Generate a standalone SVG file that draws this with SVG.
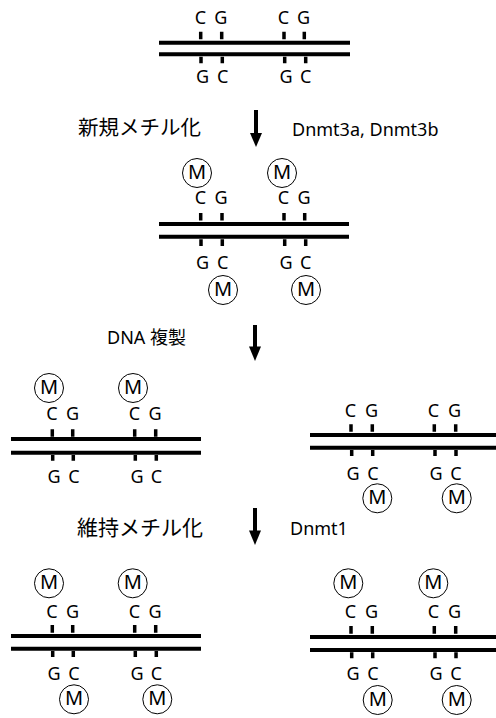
<svg xmlns="http://www.w3.org/2000/svg" width="496" height="718" viewBox="0 0 496 718">
<style>
.strand{stroke:#000;stroke-width:4;fill:none}
.tick{stroke:#000;stroke-width:3.5;fill:none}
.base{font-family:"Noto Sans","Liberation Sans",sans-serif;font-size:18px;fill:#000;text-anchor:middle}
.mc{fill:#fff;stroke:#000;stroke-width:1}
.mt{font-family:"Noto Sans","Liberation Sans",sans-serif;font-size:20px;fill:#000;text-anchor:middle}
.lbl{font-family:"Noto Sans","Noto Sans CJK JP",sans-serif;font-size:18px;fill:#000}
.jp{font-family:"Noto Sans CJK JP",sans-serif;fill:#000}
.shaft{stroke:#000;stroke-width:4;fill:none}
.head{fill:#000}
</style>
<rect width="496" height="718" fill="#fff"/>

<g id="dna-original" transform="translate(159,42.7)">
<line class="strand" x1="0" y1="0" x2="191" y2="0"/>
<line class="strand" x1="0" y1="11.6" x2="191" y2="11.6"/>
<path class="tick" d="M41.7,-11V-3.5M62.7,-11V-3.5M125,-11V-3.5M145.3,-11V-3.5M42,14V20.6M63.3,14V20.6M125.7,14V20.6M146.7,14V20.6"/>
<text class="base" x="41.5" y="-18.4">C</text><text class="base" x="61.8" y="-18.4">G</text>
<text class="base" x="124.5" y="-18.4">C</text><text class="base" x="144.5" y="-18.4">G</text>
<text class="base" x="43.5" y="40.6">G</text><text class="base" x="63.7" y="40.6">C</text>
<text class="base" x="127" y="40.6">G</text><text class="base" x="146.7" y="40.6">C</text>
</g>

<g id="dna-denovo" transform="translate(159,224)">
<line class="strand" x1="0" y1="0" x2="190" y2="0"/>
<line class="strand" x1="0" y1="12.7" x2="190" y2="12.7"/>
<path class="tick" d="M41.7,-11V-3.5M63,-11V-3.5M125,-11V-3.5M145.7,-11V-3.5M42,15.3V22M63.3,15.3V22M125.7,15.3V22M146.7,15.3V22"/>
<text class="base" x="41.5" y="-20">C</text><text class="base" x="62" y="-20">G</text>
<text class="base" x="124.5" y="-20">C</text><text class="base" x="145" y="-20">G</text>
<text class="base" x="43.5" y="45.3">G</text><text class="base" x="63.7" y="45.3">C</text>
<text class="base" x="127" y="45.3">G</text><text class="base" x="146.7" y="45.3">C</text>
<circle class="mc" cx="38" cy="-51" r="14.5"/><text class="mt" x="38" y="-45">M</text>
<circle class="mc" cx="123" cy="-51" r="14.5"/><text class="mt" x="123" y="-45">M</text>
<circle class="mc" cx="64" cy="66" r="14.5"/><text class="mt" x="64" y="72">M</text>
<circle class="mc" cx="147" cy="66" r="14.5"/><text class="mt" x="147" y="72">M</text>
</g>

<g id="dna-rep-left" transform="translate(11,439)">
<line class="strand" x1="0" y1="0" x2="190" y2="0"/>
<line class="strand" x1="0" y1="13.7" x2="190" y2="13.7"/>
<path class="tick" d="M41.3,-9.7V-2.3M61.7,-9.7V-2.3M123.7,-9.7V-2.3M144.7,-9.7V-2.3M41.7,16V21.7M62.3,16V21.7M124.3,16V21.7M145.3,16V21.7"/>
<text class="base" x="41" y="-19">C</text><text class="base" x="61.5" y="-19">G</text>
<text class="base" x="123.5" y="-19">C</text><text class="base" x="144" y="-19">G</text>
<text class="base" x="43" y="44.3">G</text><text class="base" x="63" y="44.3">C</text>
<text class="base" x="126" y="44.3">G</text><text class="base" x="145.5" y="44.3">C</text>
<circle class="mc" cx="38" cy="-51" r="14.5"/><text class="mt" x="38" y="-45">M</text>
<circle class="mc" cx="122" cy="-51" r="14.5"/><text class="mt" x="122" y="-45">M</text>
</g>

<g id="dna-rep-right" transform="translate(310,435)">
<line class="strand" x1="0" y1="0" x2="187" y2="0"/>
<line class="strand" x1="0" y1="12.7" x2="187" y2="12.7"/>
<path class="tick" d="M41,-10.7V-3.3M62.3,-10.7V-3.3M124.3,-10.7V-3.3M145.7,-10.7V-3.3M41.7,15V21M62.7,15V21M125,15V21M146,15V21"/>
<text class="base" x="40.5" y="-18.3">C</text><text class="base" x="61.5" y="-18.3">G</text>
<text class="base" x="123.5" y="-18.3">C</text><text class="base" x="144.5" y="-18.3">G</text>
<text class="base" x="43" y="45">G</text><text class="base" x="63" y="45">C</text>
<text class="base" x="126" y="45">G</text><text class="base" x="146" y="45">C</text>
<circle class="mc" cx="67.3" cy="63.3" r="14.5"/><text class="mt" x="67.3" y="69.3">M</text>
<circle class="mc" cx="146.7" cy="63.3" r="14.5"/><text class="mt" x="146.7" y="69.3">M</text>
</g>

<g id="dna-maint-left" transform="translate(11,636)">
<line class="strand" x1="0" y1="0" x2="190" y2="0"/>
<line class="strand" x1="0" y1="12.7" x2="190" y2="12.7"/>
<path class="tick" d="M41.3,-11V-3.3M61.7,-11V-3.3M123.7,-11V-3.3M144.7,-11V-3.3M41.7,15V21M62.3,15V21M124.3,15V21M145.3,15V21"/>
<text class="base" x="41" y="-18.3">C</text><text class="base" x="61.5" y="-18.3">G</text>
<text class="base" x="123.5" y="-18.3">C</text><text class="base" x="144" y="-18.3">G</text>
<text class="base" x="43" y="44">G</text><text class="base" x="63" y="44">C</text>
<text class="base" x="126" y="44">G</text><text class="base" x="145.5" y="44">C</text>
<circle class="mc" cx="38" cy="-52.7" r="14.5"/><text class="mt" x="38" y="-46.7">M</text>
<circle class="mc" cx="121.7" cy="-52.7" r="14.5"/><text class="mt" x="121.7" y="-46.7">M</text>
<circle class="mc" cx="63" cy="63.3" r="14.5"/><text class="mt" x="63" y="69.3">M</text>
<circle class="mc" cx="146.3" cy="63.3" r="14.5"/><text class="mt" x="146.3" y="69.3">M</text>
</g>

<g id="dna-maint-right" transform="translate(310,637)">
<line class="strand" x1="0" y1="0" x2="187" y2="0"/>
<line class="strand" x1="0" y1="13" x2="187" y2="13"/>
<path class="tick" d="M41,-11V-3.3M62.3,-11V-3.3M124.3,-11V-3.3M145.7,-11V-3.3M41.7,15.3V21.3M62.7,15.3V21.3M125,15.3V21.3M146,15.3V21.3"/>
<text class="base" x="40.5" y="-19.3">C</text><text class="base" x="61.5" y="-19.3">G</text>
<text class="base" x="123.5" y="-19.3">C</text><text class="base" x="144.5" y="-19.3">G</text>
<text class="base" x="43" y="43">G</text><text class="base" x="63" y="43">C</text>
<text class="base" x="126" y="43">G</text><text class="base" x="146" y="43">C</text>
<circle class="mc" cx="38.3" cy="-53.7" r="14.5"/><text class="mt" x="38.3" y="-47.7">M</text>
<circle class="mc" cx="123.3" cy="-53.7" r="14.5"/><text class="mt" x="123.3" y="-47.7">M</text>
<circle class="mc" cx="67.7" cy="63" r="14.5"/><text class="mt" x="67.7" y="69">M</text>
<circle class="mc" cx="146.7" cy="63" r="14.5"/><text class="mt" x="146.7" y="69">M</text>
</g>

<g id="connectors">
<line class="shaft" x1="256" y1="110" x2="256" y2="135"/>
<polygon class="head" points="250,133 262,133 256,147"/>
<line class="shaft" x1="255" y1="325" x2="255" y2="348"/>
<polygon class="head" points="249,346.5 261,346.5 255,361"/>
<line class="shaft" x1="255" y1="508" x2="255" y2="532"/>
<polygon class="head" points="249,530.5 261,530.5 255,545"/>
</g>

<g id="labels">
<text class="jp" x="78" y="135" font-size="20.5">新規メチル化</text>
<text class="lbl" x="292" y="136">Dnmt3a, Dnmt3b</text>
<text class="lbl" x="107" y="344">DNA <tspan font-family="Noto Sans CJK JP">複製</tspan></text>
<text class="jp" x="77" y="535" font-size="21">維持メチル化</text>
<text class="lbl" x="290" y="535">Dnmt1</text>
</g>
</svg>
